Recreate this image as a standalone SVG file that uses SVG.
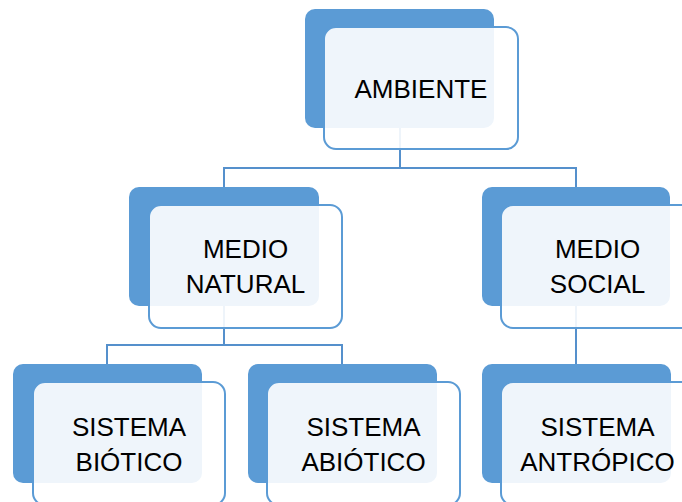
<svg xmlns="http://www.w3.org/2000/svg" width="682" height="502" viewBox="0 0 682 502">
<style>
.back{fill:#5B9BD5;}
.front{fill:#FFFFFF;fill-opacity:0.9;stroke:#5B9BD5;stroke-width:2;}
.conn{fill:none;stroke:#5590CC;stroke-width:2;}
text{font-family:"Liberation Sans",Arial,sans-serif;font-size:26px;fill:#000;text-anchor:middle;}
</style>
<rect width="682" height="502" fill="#FFFFFF"/>
<g id="connectors">
<path class="conn" d="M400,128 V168 M224,187 V168 H576 V187"/>
<path class="conn" d="M224,306 V345 M107,364 V345 H342 V364"/>
<path class="conn" d="M576,306 V364"/>
</g>
<g id="ambiente">
<rect class="back" x="305" y="9" width="189" height="119" rx="10"/>
<rect class="front" x="324" y="27" width="194" height="122" rx="12"/>
<text x="421" y="98">AMBIENTE</text>
</g>
<g id="medio-natural">
<rect class="back" x="129" y="187" width="190" height="119" rx="10"/>
<rect class="front" x="149" y="205" width="193" height="123" rx="12"/>
<text x="245.5" y="258">MEDIO</text>
<text x="245.5" y="293">NATURAL</text>
</g>
<g id="medio-social">
<rect class="back" x="482" y="187" width="188" height="119" rx="10"/>
<rect class="front" x="501" y="205" width="193" height="123" rx="12"/>
<text x="597.5" y="258">MEDIO</text>
<text x="597.5" y="293">SOCIAL</text>
</g>
<g id="sistema-biotico">
<rect class="back" x="13" y="364" width="189" height="119" rx="10"/>
<rect class="front" x="33" y="382" width="192" height="123" rx="12"/>
<text x="129" y="436">SISTEMA</text>
<text x="129" y="471">BIÓTICO</text>
</g>
<g id="sistema-abiotico">
<rect class="back" x="248" y="364" width="189" height="119" rx="10"/>
<rect class="front" x="267" y="382" width="193" height="123" rx="12"/>
<text x="363.5" y="436">SISTEMA</text>
<text x="363.5" y="471">ABIÓTICO</text>
</g>
<g id="sistema-antropico">
<rect class="back" x="482" y="364" width="189" height="119" rx="10"/>
<rect class="front" x="501" y="382" width="193" height="123" rx="12"/>
<text x="597.5" y="436">SISTEMA</text>
<text x="597.5" y="471">ANTRÓPICO</text>
</g>
</svg>
